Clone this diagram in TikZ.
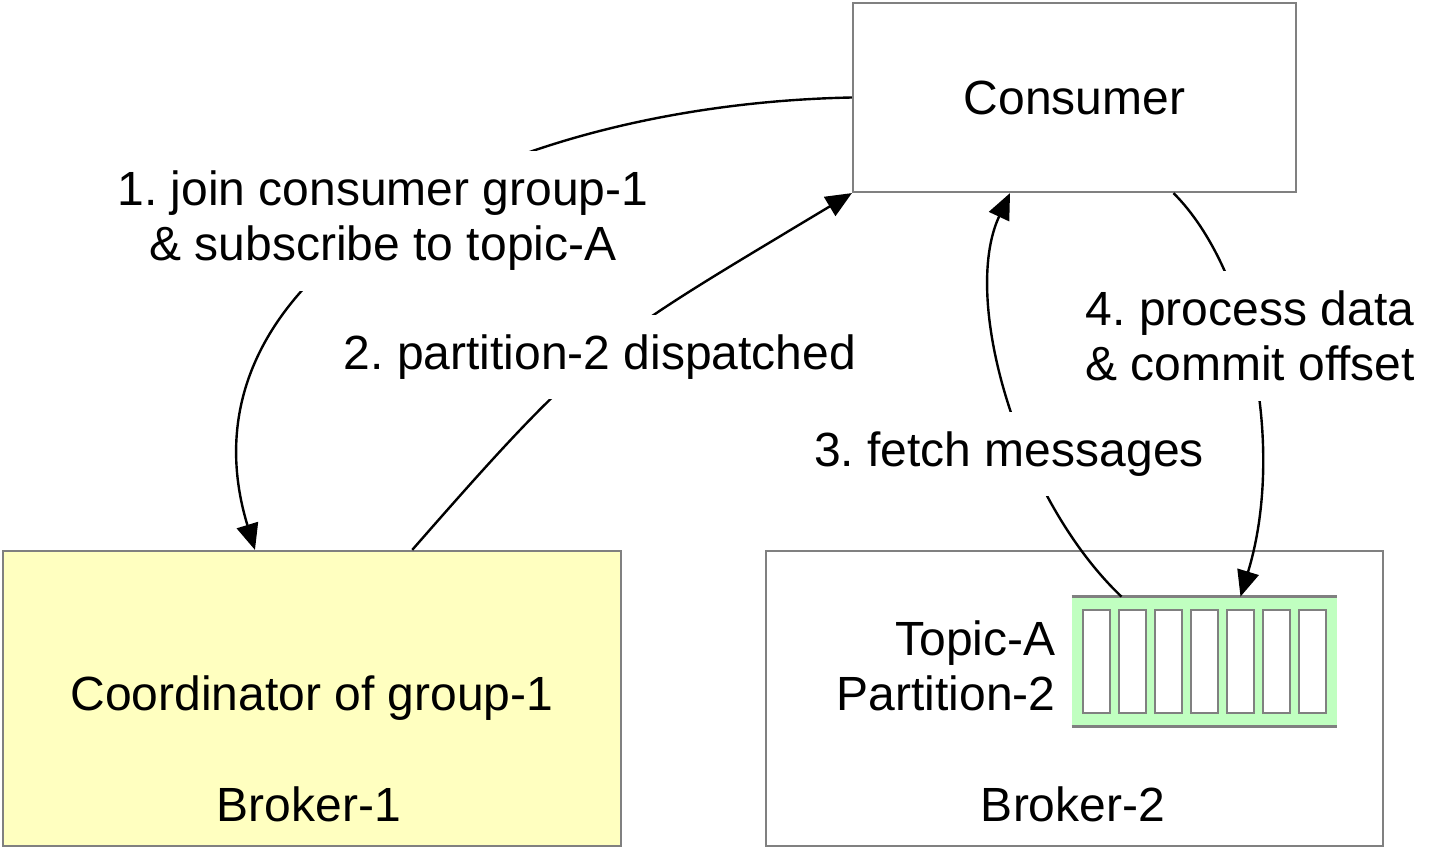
\documentclass[tikz,border=0pt]{standalone}
\usepackage{fontspec}
\setmainfont{Liberation Sans}
\usetikzlibrary{arrows.meta}
\definecolor{brokerfill}{HTML}{FFFFC0}
\definecolor{partfill}{HTML}{C0FFC0}
\definecolor{edgegray}{HTML}{808080}
\tikzset{
  box/.style={draw=edgegray, line width=1.1pt, inner sep=0pt},
  flow/.style={line width=1.2pt, -{Triangle[length=13pt,width=11pt]}},
  tag/.style={fill=white, align=center, inner xsep=2pt, inner ysep=10pt},
}
\frenchspacing

\begin{document}
\begin{tikzpicture}[x=0.5pt, y=-0.5pt, font=\fontsize{24}{27.5}\selectfont]
      \useasboundingbox (0,0) rectangle (1440,849);
      % boxes
      \node[box, minimum width=221.5pt, minimum height=94.5pt] (consumer) at (1074.5,97.5) {Consumer};
      \node[box, fill=brokerfill, minimum width=309pt, minimum height=147.5pt] (broker1) at (312,698.5) {Coordinator of group-1};
      \node (b1name) at (309,804) {Broker-1};
      \node[box, minimum width=308.5pt, minimum height=147.5pt] (broker2) at (1074.5,698.5) {};
      \node (b2name) at (1073,804) {Broker-2};
      \node[align=right, anchor=east, inner sep=0pt] (topic) at (1056,666) {Topic-A\\Partition-2};
      % partition-2 log
      \node[fill=partfill, minimum width=132.5pt, minimum height=64.5pt, inner sep=0pt] (partition) at (1204.5,661.5) {};
      \draw[edgegray, line width=1.3pt] (partition.north west) -- (partition.north east)
        (partition.south west) -- (partition.south east);
      \foreach \i in {0,...,6}
        \draw[edgegray, line width=1.3pt, fill=white] (1083+36*\i,610) rectangle ++(27,103);
      % connectors
      \draw[flow] (consumer.west) .. controls +(-353,7) and +(-85,-279) .. (broker1.111);
      \draw[flow] (broker1.56) .. controls +(181,-207) and +(-251,151) .. (consumer.south west);
      \draw[flow] (partition.142) .. controls +(-102,-97) and +(-50,107) .. (consumer.236);
      \draw[flow] (consumer.316) .. controls +(78,78) and +(45,-147) .. (partition.61);
      % labels
      \node[tag] (join) at (383,221) {1. join consumer group-1\\\& subscribe to topic-A};
      \node[tag] (assign) at (600,357) {2. partition-2 dispatched};
      \node[tag] (fetch) at (1009,454) {3. fetch messages};
      \node[tag] (commit) at (1250,336) {4. process data\\\& commit offset};
    \end{tikzpicture}
\end{document}
